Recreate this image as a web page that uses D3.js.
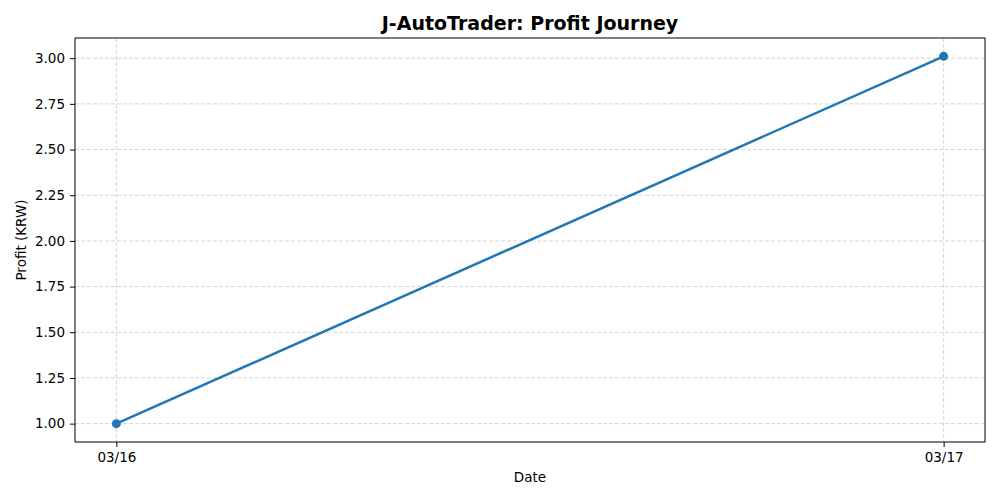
<!DOCTYPE html>
<html>
<head>
<meta charset="utf-8">
<script src="https://cdn.jsdelivr.net/npm/d3@7"></script>
<style>
  body { margin: 0; background: #fff; }
  svg { font-family: "DejaVu Sans", sans-serif; }
  .tick text { fill: #000; }
  .tick line { stroke: #000; }
  .domain { display: none; }
</style>
</head>
<body>
<div id="container"></div>
<script>
// chart data
const dates = ["2024-03-16", "2024-03-17"];
const profits = [1.00, 3.01];
const yTicks = [1.00, 1.25, 1.50, 1.75, 2.00, 2.25, 2.50, 2.75, 3.00];

const width = 1000, height = 500;
const margin = { top: 38, right: 15, bottom: 58, left: 75 };
const innerW = width - margin.left - margin.right;
const innerH = height - margin.top - margin.bottom;

const parse = d3.timeParse("%Y-%m-%d");
const points = dates.map((d, i) => ({ date: parse(d), value: profits[i] }));

// matplotlib style 5% margins
let xExt = d3.extent(points, d => +d.date);
let xPad = (xExt[1] - xExt[0]) * 0.05;
let yExt = d3.extent(points, d => d.value);
let yPad = (yExt[1] - yExt[0]) * 0.05;

let x = d3.scaleTime()
  .domain([new Date(xExt[0] - xPad), new Date(xExt[1] + xPad)])
  .range([0, innerW]);
let y = d3.scaleLinear()
  .domain([yExt[0] - yPad, yExt[1] + yPad])
  .range([innerH, 0]);

let svg = d3.select("#container").append("svg")
  .attr("width", width)
  .attr("height", height);

let g = svg.append("g")
  .attr("transform", `translate(${margin.left},${margin.top})`);

// grid
g.append("g").selectAll("line")
  .data(yTicks)
  .enter().append("line")
  .attr("x1", 0).attr("x2", innerW)
  .attr("y1", d => y(d)).attr("y2", d => y(d))
  .attr("stroke", "#b0b0b0").attr("stroke-opacity", 0.5)
  .attr("stroke-dasharray", "4,2");

g.append("g").selectAll("line")
  .data(points)
  .enter().append("line")
  .attr("x1", d => x(d.date)).attr("x2", d => x(d.date))
  .attr("y1", 0).attr("y2", innerH)
  .attr("stroke", "#b0b0b0").attr("stroke-opacity", 0.5)
  .attr("stroke-dasharray", "4,2");

// axes
let xAxis = d3.axisBottom(x)
  .tickValues(points.map(d => d.date))
  .tickFormat(d3.timeFormat("%m/%d"))
  .tickSize(5).tickPadding(5);
g.append("g")
  .attr("transform", `translate(0,${innerH})`)
  .call(xAxis)
  .attr("font-size", 13.5)
  .attr("font-family", "DejaVu Sans, sans-serif");

let yAxis = d3.axisLeft(y)
  .tickValues(yTicks)
  .tickFormat(d3.format(".2f"))
  .tickSize(5).tickPadding(5);
g.append("g").call(yAxis)
  .attr("font-size", 13.5)
  .attr("font-family", "DejaVu Sans, sans-serif");

// frame
g.append("rect")
  .attr("width", innerW).attr("height", innerH)
  .attr("fill", "none").attr("stroke", "#000").attr("stroke-width", 1);

// line and markers
let line = d3.line().x(d => x(d.date)).y(d => y(d.value));
g.append("path")
  .datum(points)
  .attr("d", line)
  .attr("fill", "none")
  .attr("stroke", "#1f77b4")
  .attr("stroke-width", 2.5);

g.selectAll("circle")
  .data(points)
  .enter().append("circle")
  .attr("cx", d => x(d.date))
  .attr("cy", d => y(d.value))
  .attr("r", 4.5)
  .attr("fill", "#1f77b4");

// labels
svg.append("text")
  .attr("x", margin.left + innerW / 2).attr("y", 30)
  .attr("text-anchor", "middle")
  .attr("font-size", "19px").attr("font-weight", "bold")
  .text("J-AutoTrader: Profit Journey");

svg.append("text")
  .attr("x", margin.left + innerW / 2).attr("y", 482)
  .attr("text-anchor", "middle")
  .attr("font-size", "13.5px")
  .text("Date");

svg.append("text")
  .attr("transform", `translate(26,${margin.top + innerH / 2}) rotate(-90)`)
  .attr("text-anchor", "middle")
  .attr("font-size", "13.5px")
  .text("Profit (KRW)");
</script>
</body>
</html>
